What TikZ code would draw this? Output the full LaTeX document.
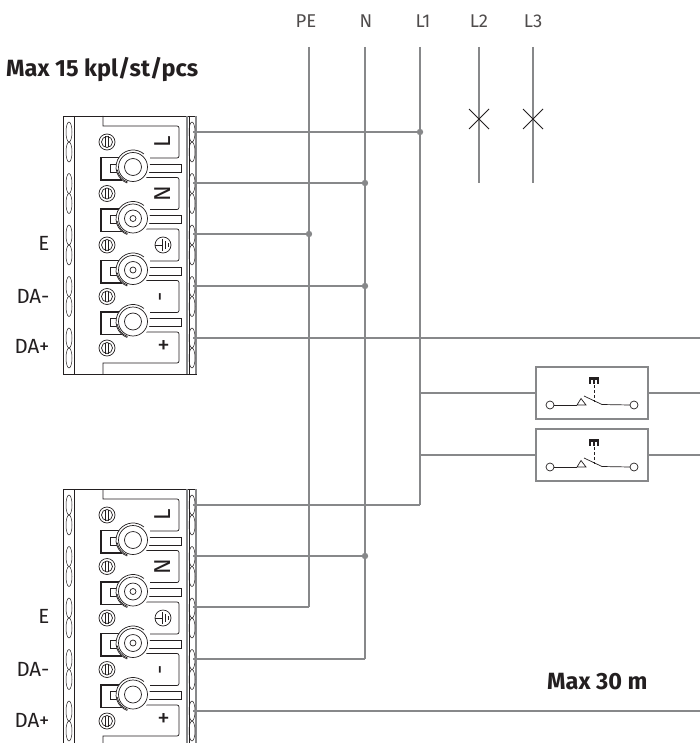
\documentclass[tikz,border=0pt]{standalone}
\usepackage{fontspec}
\setmainfont{Fira Sans}
\usetikzlibrary{calc}

\definecolor{wiregray}{HTML}{87888A}
\definecolor{inkgray}{HTML}{231F20}

\tikzset{
  wire/.style={draw=wiregray, line width=1.5pt},
  part/.style={draw=inkgray, line width=.7pt},
  joint/.style={fill=wiregray, draw=none},
  phase/.style={text=inkgray!80, font=\fontsize{18.5}{18.5}\selectfont, inner sep=0pt},
  pinlabel/.style={text=inkgray, font=\fontsize{20.5}{20.5}\selectfont, inner sep=0pt, anchor=east},
  heading/.style={text=inkgray, font=\fontsize{23.5}{24}\selectfont\bfseries, inner sep=0pt},
  panellabel/.style={text=inkgray, font=\fontsize{23}{23}\selectfont, inner sep=0pt},
  % One terminal block, origin at x=0 and its top edge
  pics/terminal/.style={code={
    % Housing and strips
    \draw [part, fill=white] (63,0) rectangle (196,258);
    \draw [part] (74,0) -- (74,258);
    \draw [wiregray, line width=1.5pt] (187,0) -- (187,258);
    \draw [part] (189,0) -- (189,258);
    \draw [wiregray, line width=1.2pt] (196,0) -- (196,258);
    % Oval pairs, one pair per pin
    \foreach \k in {0,...,4} {
      \pgfmathsetmacro{\wy}{16+51.5*\k}
      \foreach \ox in {69,192} {
        \draw [part, line width=.5pt] (\ox,\wy) ellipse (3 and 10);
        \draw [part, line width=.5pt] (\ox,\wy+20) ellipse (3 and 10);
      }
      % Small screw
      \draw [part] (107,\wy+10) circle (8);
      \draw [part] (107,\wy+10) circle (5.5);
      \draw [part] (105.5,\wy+4.5) -- (105.5,\wy+15.5);
      \draw [part] (108,\wy+4.5) -- (108,\wy+15.5);
    }
    % Panels behind the pin labels
    \draw [part] (103,0) -- (103,10) -- (177,10) to[out=0, in=90] (179,12) -- (179,40) to[out=-90, in=0] (177,42) -- (150,42);
    \foreach \k in {1,2,3} {
      \pgfmathsetmacro{\wy}{16+51.5*\k}
      \draw [part] (146,\wy-6) -- (177,\wy-6) to[out=0, in=90] (179,\wy-4) -- (179,\wy+24) to[out=-90, in=0] (177,\wy+26) -- (150,\wy+26);
    }
    \draw [part] (146,216) -- (177,216) to[out=0, in=90] (179,218) -- (179,245) to[out=-90, in=0] (177,247) -- (103,247) -- (103,258);
    % Levers and knobs
    \foreach \k/\cap in {0/0,1/1,2/1,3/0} {
      \pgfmathsetmacro{\wy}{51+51.5*\k}
      \draw [part, line width=1.8pt] (120,\wy-9.5) -- (101,\wy-9.5) -- (101,\wy+13) -- (122,\wy+13);
      \draw [part] (121,\wy-3) -- (110,\wy-3) -- (110,\wy+5) -- (121,\wy+5);
      \draw [part] (147,\wy-3) -- (181,\wy-3) -- (181,\wy+5) -- (147,\wy+5);
      \fill [white] (133,\wy) circle (17);
      \draw [part] (133,\wy) ++(-50:17) arc [start angle=-50, end angle=-250, radius=17];
      \draw [part] (133,\wy) ++(110:16) arc [start angle=110, end angle=170, radius=16];
      \draw [part] (133,\wy) circle (14.5);
      \draw [part] (133,\wy) circle (8.5);
      \ifnum\cap=1
        \draw [part] (133,\wy) circle (3);
      \fi
    }
    % Pin labels on the panels
    \node [panellabel, rotate=90] (-tagL) at (163,26) {L};
    \node [panellabel, rotate=90] (-tagN) at (163,77.5) {N};
    \draw [part] (163,129) circle (8);
    \draw [part] (155,129) -- (162,129);
    \draw [part] (162,123) -- (162,135);
    \draw [part] (165,125) -- (165,133);
    \draw [part] (168,127) -- (168,131);
    \node [panellabel, rotate=90] (-tagM) at (163.5,181) {-};
    \node [panellabel, font=\fontsize{25}{25}\selectfont] (-tagP) at (163.5,231) {+};
    % Where the wires leave the block
    \coordinate (-L) at (193,16);
    \coordinate (-N) at (193,67);
    \coordinate (-E) at (193,118);
    \coordinate (-M) at (193,170);
    \coordinate (-P) at (193,222);
  }},
  % One push button box, origin at the left wire height
  pics/pushbox/.style={code={
    \draw [wiregray, line width=1.5pt, fill=white] (536,-26) rectangle (648,26);
    \draw [part] (554,12) -- (577,12);
    \draw [part] (550,12) circle (4);
    \draw [part] (634,12) circle (4);
    \draw [part] (577,12) -- (586,12) -- (581,5.5) -- cycle;
    \draw [part] (584,3) -- (602,11.5) -- (630,12);
    \draw [part, densely dashed] (594,-8) -- (594,9);
    \fill [inkgray] (589,-16) rectangle (599,-13);
    \foreach \ox in {589,593,597} {
      \fill [inkgray] (\ox,-14) rectangle (\ox+2,-9);
    }
    \coordinate (-in) at (536,0);
    \coordinate (-out) at (648,0);
  }}
}

\begin{document}
\begin{tikzpicture}[x=1pt, y=-1pt]

\clip (0,0) rectangle (700,743);

% Supply labels and the top ends of the bus lines
\foreach \name/\xb/\xl/\lab in {pe/309/306/PE, n/365/366/N, lone/420/423/L1, ltwo/479/479/L2, lthree/533/533/L3} {
  \node [phase] (lab\name) at (\xl,21) {\lab};
  \coordinate (\name top) at (\xb,47);
}

% Headings
\node [heading, anchor=west] (maxunits) at (6,70) {Max 15 kpl/st/pcs};
\node [heading, anchor=west] (maxlength) at (547,682) {Max 30 m};

% The two terminal blocks
\pic (upper) at (0,116) {terminal};
\pic (lower) at (0,489) {terminal};

% Pin names
\foreach \blk/\dy in {a/0, b/373.5} {
  \node [pinlabel] (e\blk) at (49.5,243+\dy) {E};
  \node [pinlabel] (dam\blk) at (49.5,296+\dy) {DA-};
  \node [pinlabel] (dap\blk) at (49.5,346.5+\dy) {DA+};
}

% The two push buttons
\pic (btnone) at (0,393) {pushbox};
\pic (btntwo) at (0,455) {pushbox};

% Bus line ends and junctions
\coordinate (ltwoend) at (479,183);
\coordinate (lthreeend) at (533,183);
\coordinate (peend) at (309,607);
\coordinate (nend) at (365,659);
\coordinate (loneend) at (420,505);
\coordinate (jl) at (420,132);
\coordinate (jn) at (365,183);
\coordinate (je) at (309,234);
\coordinate (jm) at (365,286);
\coordinate (jnlow) at (365,556);
\coordinate (jbtnone) at (420,393);
\coordinate (jbtntwo) at (420,455);
\coordinate (daone) at (700,338);
\coordinate (datwo) at (700,711);
\coordinate (outone) at (700,393);
\coordinate (outtwo) at (700,455);

% Bus lines
\draw [wire] (petop) -- (peend);
\draw [wire] (ntop) -- (nend);
\draw [wire] (lonetop) -- (loneend);
\draw [wire] (ltwotop) -- (ltwoend);
\draw [wire] (lthreetop) -- (lthreeend);

% Wires from the upper block
\draw [wire] (upper-L) -- (jl);
\draw [wire] (upper-N) -- (jn);
\draw [wire] (upper-E) -- (je);
\draw [wire] (upper-M) -- (jm);
\draw [wire] (upper-P) -- (daone);

% Wires from the lower block
\draw [wire] (lower-L) -- (loneend);
\draw [wire] (lower-N) -- (jnlow);
\draw [wire] (lower-E) -- (peend);
\draw [wire] (lower-M) -- (nend);
\draw [wire] (lower-P) -- (datwo);

% Wires through the push buttons
\draw [wire] (jbtnone) -- (btnone-in);
\draw [wire] (btnone-out) -- (outone);
\draw [wire] (jbtntwo) -- (btntwo-in);
\draw [wire] (btntwo-out) -- (outtwo);

% Junction dots
\foreach \j in {jl, jn, je, jm, jnlow} {
  \fill [joint] (\j) circle (3.2);
}

% Crosses on L2 and L3
\foreach \xc in {479,533} {
  \draw [inkgray, line width=.9pt] (\xc-10,109) -- (\xc+10,129);
  \draw [inkgray, line width=.9pt] (\xc-10,129) -- (\xc+10,109);
}

\end{tikzpicture}
\end{document}
